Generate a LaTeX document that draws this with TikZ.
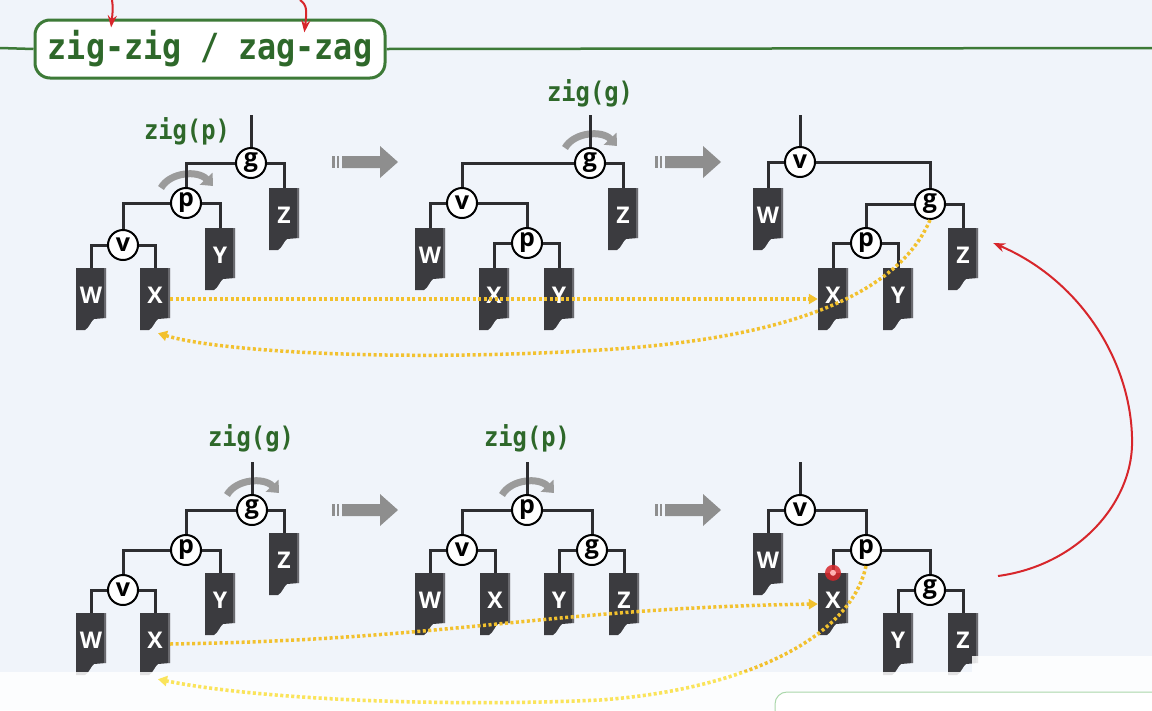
\documentclass[tikz,border=0pt]{standalone}
\usepackage{fontspec}
\usetikzlibrary{arrows.meta,calc}
\newfontfamily\codefont{DejaVu Sans Mono}[FakeStretch=0.88]
\newfontfamily\treefont{Open Sans}
\definecolor{bgc}{RGB}{240,244,250}
\definecolor{edgec}{RGB}{45,45,48}
\definecolor{leafc}{RGB}{59,59,63}
\definecolor{leafedge}{RGB}{105,105,110}
\definecolor{titlegreen}{RGB}{61,122,55}
\definecolor{textgreen}{RGB}{46,104,42}
\definecolor{yelc}{RGB}{242,193,46}
\definecolor{paleyel}{RGB}{250,228,90}
\definecolor{garrowc}{RGB}{142,142,142}
\definecolor{rotc}{RGB}{155,155,155}
\definecolor{redc}{RGB}{215,38,43}
\definecolor{lgreen}{RGB}{170,215,170}
\tikzset{
  edge/.style={draw=edgec, line width=3pt},
  tn/.style={circle, draw=black, line width=2pt, fill=white, minimum size=30pt, inner sep=0pt,
    font=\treefont\bfseries\fontsize{25}{25}\selectfont},
  leaf/.style={minimum width=30pt, minimum height=62pt, inner sep=0pt, text=white, text depth=8pt,
    font=\treefont\bfseries\fontsize{23}{23}\selectfont},
  lbl/.style={text=textgreen, font=\codefont\bfseries\fontsize{27}{27}\selectfont},
  titlebox/.style={draw=titlegreen, line width=3pt, fill=white, rounded corners=15pt,
    minimum width=350pt, minimum height=58pt, text=textgreen,
    font=\codefont\bfseries\fontsize{36}{36}\selectfont},
  rot/.style={draw=rotc, line width=7pt, -{Triangle[length=10pt,width=17pt]}},
  yel/.style={draw=yelc, line width=3.5pt, dash pattern=on 3pt off 2.5pt,
    -{Triangle[length=9pt,width=10pt]}},
  redarr/.style={draw=redc, line width=2pt, -{Stealth[length=12pt,width=9pt]}},
}
\newcommand\leafnode[4]{%
  \fill[leafc] (#2-15,#3) -- (#2+15,#3) -- (#2+15,#3+50) -- (#2+3,#3+51)
    .. controls (#2,#3+53) and (#2-2,#3+60) .. (#2-6,#3+62) -- (#2-15,#3+62) -- cycle;
  \fill[leafedge] (#2+13,#3) rectangle (#2+15,#3+50);
  \node[leaf] (#1) at (#2,#3+31) {#4};}
\newcommand\rotarrow[1]{%
  \draw[rot] ($(#1)+(-25,-15)$) .. controls ($(#1)+(-16,-31)$) and ($(#1)+(12,-33)$) .. ($(#1)+(27,-17)$);}
\newcommand\bigarrow[2]{%
  \fill[garrowc] (#1,#2-6) rectangle (#1+3,#2+6);
  \fill[garrowc] (#1+5,#2-6) rectangle (#1+7,#2+6);
  \fill[garrowc] (#1+10,#2-6) -- (#1+48,#2-6) -- (#1+48,#2-16) -- (#1+66,#2) -- (#1+48,#2+16)
    -- (#1+48,#2+6) -- (#1+10,#2+6) -- cycle;}
\begin{document}
\begin{tikzpicture}[x=1pt,y=-1pt]
\fill[bgc] (0,0) rectangle (1152,710);
\useasboundingbox (0,0) rectangle (1152,710);

% ---------- title ----------
\node[titlebox] (title) at (210,49) {zig-zig / zag-zag};
\coordinate (gl) at (0,48);
\coordinate (gr) at (1152,48);
\draw[titlegreen, line width=2.5pt] (gl) -- (title.west);
\draw[titlegreen, line width=2.5pt] (title.east) -- (gr);
\coordinate (ra1) at (112,0);
\coordinate (ra2) at (300,0);
\draw[redarr, shorten >=-9pt] (ra1) .. controls (113,8) .. (ra1 |- title.north);
\draw[redarr, shorten >=-14pt] (ra2) .. controls (307,5) and (307,10) .. ([xshift=6pt]ra2 |- title.north);

% ---------- top tree 1 ----------
\coordinate (r1) at (251,115);
\node[tn] (g1) at (251,163) {g};
\node[tn] (p1) at (186,203) {p};
\node[tn] (v1) at (123,245) {v};
\leafnode{W1}{91}{268}{W}
\leafnode{X1}{155}{268}{X}
\leafnode{Y1}{220}{228}{Y}
\leafnode{Z1}{284}{188}{Z}
\rotarrow{p1}
\draw[edge] (r1) -- (g1.north);
\draw[edge] (g1.west) -| (p1.north);
\draw[edge] (g1.east) -| (Z1.north);
\draw[edge] (p1.west) -| (v1.north);
\draw[edge] (p1.east) -| (Y1.north);
\draw[edge] (v1.west) -| (W1.north);
\draw[edge] (v1.east) -| (X1.north);
\node[lbl] (l1) at (187,131) {zig(p)};
\bigarrow{332}{162}

% ---------- top tree 2 ----------
\coordinate (r2) at (590,115);
\node[tn] (g2) at (590,163) {g};
\node[tn] (v2) at (462,203) {v};
\node[tn] (p2) at (527,243) {p};
\leafnode{W2}{430}{228}{W}
\leafnode{X2}{494}{268}{X}
\leafnode{Y2}{559}{268}{Y}
\leafnode{Z2}{623}{188}{Z}
\rotarrow{g2}
\draw[edge] (r2) -- (g2.north);
\draw[edge] (g2.west) -| (v2.north);
\draw[edge] (g2.east) -| (Z2.north);
\draw[edge] (v2.west) -| (W2.north);
\draw[edge] (v2.east) -| (p2.north);
\draw[edge] (p2.west) -| (X2.north);
\draw[edge] (p2.east) -| (Y2.north);
\node[lbl] (l2) at (590,93) {zig(g)};
\bigarrow{655}{162}

% ---------- top tree 3 ----------
\coordinate (r3) at (800,115);
\node[tn] (v3) at (800,162) {v};
\node[tn] (g3) at (930,204) {g};
\node[tn] (p3) at (866,243) {p};
\leafnode{W3}{768}{188}{W}
\leafnode{X3}{833}{268}{X}
\leafnode{Y3}{898}{268}{Y}
\leafnode{Z3}{963}{228}{Z}
\draw[edge] (r3) -- (v3.north);
\draw[edge] (v3.west) -| (W3.north);
\draw[edge] (v3.east) -| (g3.north);
\draw[edge] (g3.west) -| (p3.north);
\draw[edge] (g3.east) -| (Z3.north);
\draw[edge] (p3.west) -| (X3.north);
\draw[edge] (p3.east) -| (Y3.north);

% ---------- bottom tree 1 ----------
\coordinate (r4) at (252,462);
\node[tn] (g4) at (252,510) {g};
\node[tn] (p4) at (186,550) {p};
\node[tn] (v4) at (123,590) {v};
\leafnode{W4}{91}{613}{W}
\leafnode{X4}{155}{613}{X}
\leafnode{Y4}{220}{573}{Y}
\leafnode{Z4}{284}{533}{Z}
\rotarrow{g4}
\draw[edge] (r4) -- (g4.north);
\draw[edge] (g4.west) -| (p4.north);
\draw[edge] (g4.east) -| (Z4.north);
\draw[edge] (p4.west) -| (v4.north);
\draw[edge] (p4.east) -| (Y4.north);
\draw[edge] (v4.west) -| (W4.north);
\draw[edge] (v4.east) -| (X4.north);
\node[lbl] (l4) at (251,438) {zig(g)};
\bigarrow{332}{510}

% ---------- bottom tree 2 ----------
\coordinate (r5) at (527,462);
\node[tn] (p5) at (527,510) {p};
\node[tn] (v5) at (462,550) {v};
\node[tn] (g5) at (592,550) {g};
\leafnode{W5}{430}{573}{W}
\leafnode{X5}{495}{573}{X}
\leafnode{Y5}{559}{573}{Y}
\leafnode{Z5}{624}{573}{Z}
\rotarrow{p5}
\draw[edge] (r5) -- (p5.north);
\draw[edge] (p5.west) -| (v5.north);
\draw[edge] (p5.east) -| (g5.north);
\draw[edge] (v5.west) -| (W5.north);
\draw[edge] (v5.east) -| (X5.north);
\draw[edge] (g5.west) -| (Y5.north);
\draw[edge] (g5.east) -| (Z5.north);
\node[lbl] (l5) at (527,438) {zig(p)};
\bigarrow{655}{510}

% ---------- bottom tree 3 ----------
\coordinate (r6) at (800,462);
\node[tn] (v6) at (800,510) {v};
\node[tn] (p6) at (866,550) {p};
\node[tn] (g6) at (930,590) {g};
\leafnode{W6}{768}{533}{W}
\leafnode{X6}{833}{573}{X}
\leafnode{Y6}{898}{613}{Y}
\leafnode{Z6}{963}{613}{Z}
\draw[edge] (r6) -- (v6.north);
\draw[edge] (v6.west) -| (W6.north);
\draw[edge] (v6.east) -| (p6.north);
\draw[edge] (p6.west) -| (X6.north);
\draw[edge] (p6.east) -| (g6.north);
\draw[edge] (g6.west) -| (Y6.north);
\draw[edge] (g6.east) -| (Z6.north);

% red mark on X6
\fill[redc, opacity=0.85] (X6.north) circle (8);
\fill[red!30!white] (X6.north) circle (3);

% ---------- yellow dotted arrows ----------
\draw[yel] (X1.east) -- (X3.west);
\draw[yel] (g3.south) .. controls (900,290) and (800,338) .. (600,350)
  .. controls (400,362) and (220,352) .. ([xshift=3pt,yshift=-3pt]X1.south);
\draw[yel] (X4.east) .. controls (450,640) and (550,608) .. (X6.west);
\draw[yel] (p6.south) .. controls (850,640) and (740,690) .. (600,700)
  .. controls (450,707) and (260,700) .. ([xshift=3pt,yshift=-4pt]X4.south);

% ---------- bottom overlay ----------
\fill[white, opacity=0.85] (0,672) -- (972,672) -- (972,656) -- (1152,656) -- (1152,710) -- (0,710) -- cycle;
\begin{scope}
  \clip (0,672) -- (972,672) -- (972,656) -- (1152,656) -- (1152,710) -- (0,710) -- cycle;
  \draw[yel, draw=paleyel] (p6.south) .. controls (850,640) and (740,690) .. (600,700)
    .. controls (450,707) and (260,700) .. ([xshift=3pt,yshift=-4pt]X4.south);
\end{scope}
\draw[lgreen, fill=white, rounded corners=12pt, line width=1pt] (775,692) rectangle (1170,740);

% ---------- red curved arrow ----------
\coordinate (rs) at (998,576);
\draw[redarr] (rs) .. controls (1080,565) and (1135,500) .. (1132,437)
  .. controls (1130,360) and (1080,280) .. ([xshift=15pt,yshift=16pt]Z3.east);
\end{tikzpicture}
\end{document}
